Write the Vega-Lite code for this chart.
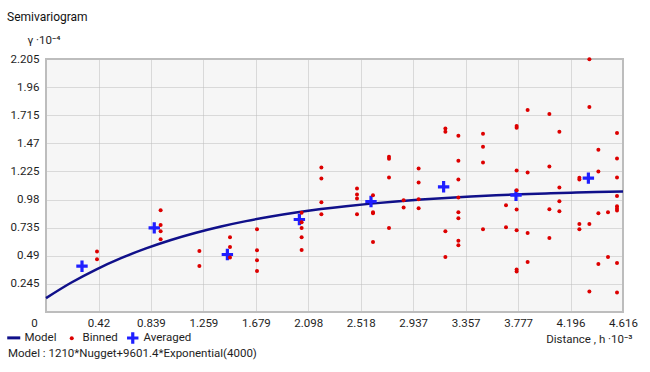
{
  "$schema": "https://vega.github.io/schema/vega-lite/v6.json",
  "width": 577,
  "height": 253,
  "autosize": {"type": "none"},
  "padding": {"left": 46, "top": 59, "right": 27, "bottom": 60},
  "background": "white",
  "title": {"text": "Semivariogram", "anchor": "start", "frame": "group", "dx": -39, "offset": 10, "font": "Roboto", "fontSize": 12, "fontWeight": "normal", "color": "#111111"},
  "config": {
    "view": {"fill": "#f6f6f6", "stroke": "#bdbdbd", "strokeWidth": 2},
    "font": "Roboto",
    "axis": {"labelFont": "Roboto", "labelFontSize": 11.5, "labelColor": "#1e1e1e", "ticks": false, "domain": false, "gridColor": "#bcbcbc", "gridDash": [1, 1], "gridWidth": 1, "titleFont": "Roboto", "titleFontSize": 11.5, "titleFontWeight": "normal", "titleColor": "#1e1e1e", "labelOverlap": false, "labelFlush": false, "labelBound": false},
    "legend": {"symbolOpacity": 1}
  },
  "datasets": {
    "curve": [
      {"series": "Model", "h": 0, "g": 0.121},
      {"series": "Model", "h": 0.2, "g": 0.2547},
      {"series": "Model", "h": 0.4, "g": 0.3699},
      {"series": "Model", "h": 0.6, "g": 0.469},
      {"series": "Model", "h": 0.8, "g": 0.5542},
      {"series": "Model", "h": 1.0, "g": 0.6276},
      {"series": "Model", "h": 1.2, "g": 0.6907},
      {"series": "Model", "h": 1.4, "g": 0.7452},
      {"series": "Model", "h": 1.6, "g": 0.792},
      {"series": "Model", "h": 1.8, "g": 0.8323},
      {"series": "Model", "h": 2.0, "g": 0.8669},
      {"series": "Model", "h": 2.2, "g": 0.8968},
      {"series": "Model", "h": 2.4, "g": 0.9224},
      {"series": "Model", "h": 2.6, "g": 0.9445},
      {"series": "Model", "h": 2.8, "g": 0.9635},
      {"series": "Model", "h": 3.0, "g": 0.9799},
      {"series": "Model", "h": 3.2, "g": 0.9941},
      {"series": "Model", "h": 3.4, "g": 1.0062},
      {"series": "Model", "h": 3.6, "g": 1.0166},
      {"series": "Model", "h": 3.8, "g": 1.0256},
      {"series": "Model", "h": 4.0, "g": 1.0333},
      {"series": "Model", "h": 4.2, "g": 1.04},
      {"series": "Model", "h": 4.4, "g": 1.0457},
      {"series": "Model", "h": 4.616, "g": 1.051}
    ],
    "avg": [
      {"series": "Averaged", "h": 0.288, "g": 0.399},
      {"series": "Averaged", "h": 0.866, "g": 0.733},
      {"series": "Averaged", "h": 1.451, "g": 0.501},
      {"series": "Averaged", "h": 2.027, "g": 0.806},
      {"series": "Averaged", "h": 2.6, "g": 0.963},
      {"series": "Averaged", "h": 3.181, "g": 1.091},
      {"series": "Averaged", "h": 3.76, "g": 1.018},
      {"series": "Averaged", "h": 4.339, "g": 1.167}
    ],
    "binned": [
      {"series": "Binned", "h": 0.408, "g": 0.527},
      {"series": "Binned", "h": 0.408, "g": 0.46},
      {"series": "Binned", "h": 0.917, "g": 0.887},
      {"series": "Binned", "h": 0.917, "g": 0.759},
      {"series": "Binned", "h": 0.917, "g": 0.704},
      {"series": "Binned", "h": 0.917, "g": 0.634},
      {"series": "Binned", "h": 1.227, "g": 0.532},
      {"series": "Binned", "h": 1.227, "g": 0.401},
      {"series": "Binned", "h": 1.472, "g": 0.652},
      {"series": "Binned", "h": 1.472, "g": 0.567},
      {"series": "Binned", "h": 1.472, "g": 0.475},
      {"series": "Binned", "h": 1.688, "g": 0.722},
      {"series": "Binned", "h": 1.688, "g": 0.538},
      {"series": "Binned", "h": 1.688, "g": 0.451},
      {"series": "Binned", "h": 1.688, "g": 0.358},
      {"series": "Binned", "h": 2.045, "g": 0.864},
      {"series": "Binned", "h": 2.045, "g": 0.783},
      {"series": "Binned", "h": 2.045, "g": 0.733},
      {"series": "Binned", "h": 2.045, "g": 0.652},
      {"series": "Binned", "h": 2.045, "g": 0.541},
      {"series": "Binned", "h": 2.203, "g": 1.26},
      {"series": "Binned", "h": 2.203, "g": 1.164},
      {"series": "Binned", "h": 2.203, "g": 0.957},
      {"series": "Binned", "h": 2.203, "g": 0.853},
      {"series": "Binned", "h": 2.488, "g": 1.077},
      {"series": "Binned", "h": 2.488, "g": 1.024},
      {"series": "Binned", "h": 2.488, "g": 0.989},
      {"series": "Binned", "h": 2.488, "g": 0.853},
      {"series": "Binned", "h": 2.616, "g": 1.018},
      {"series": "Binned", "h": 2.616, "g": 0.87},
      {"series": "Binned", "h": 2.616, "g": 0.86},
      {"series": "Binned", "h": 2.616, "g": 0.611},
      {"series": "Binned", "h": 2.744, "g": 1.353},
      {"series": "Binned", "h": 2.744, "g": 1.335},
      {"series": "Binned", "h": 2.744, "g": 1.173},
      {"series": "Binned", "h": 2.744, "g": 0.733},
      {"series": "Binned", "h": 2.861, "g": 0.975},
      {"series": "Binned", "h": 2.861, "g": 0.911},
      {"series": "Binned", "h": 2.981, "g": 1.251},
      {"series": "Binned", "h": 2.981, "g": 1.129},
      {"series": "Binned", "h": 2.981, "g": 0.983},
      {"series": "Binned", "h": 2.981, "g": 0.905},
      {"series": "Binned", "h": 3.195, "g": 1.6},
      {"series": "Binned", "h": 3.195, "g": 1.571},
      {"series": "Binned", "h": 3.195, "g": 0.704},
      {"series": "Binned", "h": 3.195, "g": 0.48},
      {"series": "Binned", "h": 3.299, "g": 1.536},
      {"series": "Binned", "h": 3.299, "g": 1.318},
      {"series": "Binned", "h": 3.299, "g": 1.155},
      {"series": "Binned", "h": 3.299, "g": 0.998},
      {"series": "Binned", "h": 3.299, "g": 0.87},
      {"series": "Binned", "h": 3.299, "g": 0.818},
      {"series": "Binned", "h": 3.299, "g": 0.62},
      {"series": "Binned", "h": 3.299, "g": 0.582},
      {"series": "Binned", "h": 3.496, "g": 1.553},
      {"series": "Binned", "h": 3.496, "g": 1.44},
      {"series": "Binned", "h": 3.496, "g": 1.304},
      {"series": "Binned", "h": 3.496, "g": 0.722},
      {"series": "Binned", "h": 3.68, "g": 0.931},
      {"series": "Binned", "h": 3.68, "g": 0.739},
      {"series": "Binned", "h": 3.765, "g": 1.62},
      {"series": "Binned", "h": 3.765, "g": 1.606},
      {"series": "Binned", "h": 3.765, "g": 1.234},
      {"series": "Binned", "h": 3.765, "g": 1.062},
      {"series": "Binned", "h": 3.765, "g": 0.894},
      {"series": "Binned", "h": 3.765, "g": 0.713},
      {"series": "Binned", "h": 3.765, "g": 0.37},
      {"series": "Binned", "h": 3.765, "g": 0.353},
      {"series": "Binned", "h": 3.853, "g": 1.76},
      {"series": "Binned", "h": 3.853, "g": 1.216},
      {"series": "Binned", "h": 3.853, "g": 0.689},
      {"series": "Binned", "h": 3.853, "g": 0.436},
      {"series": "Binned", "h": 4.027, "g": 1.725},
      {"series": "Binned", "h": 4.027, "g": 1.269},
      {"series": "Binned", "h": 4.027, "g": 0.896},
      {"series": "Binned", "h": 4.027, "g": 0.646},
      {"series": "Binned", "h": 4.107, "g": 1.571},
      {"series": "Binned", "h": 4.107, "g": 1.086},
      {"series": "Binned", "h": 4.107, "g": 0.966},
      {"series": "Binned", "h": 4.107, "g": 0.879},
      {"series": "Binned", "h": 4.267, "g": 1.169},
      {"series": "Binned", "h": 4.267, "g": 1.155},
      {"series": "Binned", "h": 4.267, "g": 0.768},
      {"series": "Binned", "h": 4.267, "g": 0.722},
      {"series": "Binned", "h": 4.347, "g": 2.202},
      {"series": "Binned", "h": 4.347, "g": 1.786},
      {"series": "Binned", "h": 4.347, "g": 0.768},
      {"series": "Binned", "h": 4.347, "g": 0.178},
      {"series": "Binned", "h": 4.419, "g": 1.414},
      {"series": "Binned", "h": 4.419, "g": 1.225},
      {"series": "Binned", "h": 4.419, "g": 0.861},
      {"series": "Binned", "h": 4.419, "g": 0.419},
      {"series": "Binned", "h": 4.496, "g": 0.87},
      {"series": "Binned", "h": 4.496, "g": 0.48},
      {"series": "Binned", "h": 4.568, "g": 1.559},
      {"series": "Binned", "h": 4.568, "g": 1.338},
      {"series": "Binned", "h": 4.568, "g": 1.173},
      {"series": "Binned", "h": 4.568, "g": 1.01},
      {"series": "Binned", "h": 4.568, "g": 0.922},
      {"series": "Binned", "h": 4.568, "g": 0.902},
      {"series": "Binned", "h": 4.568, "g": 0.885},
      {"series": "Binned", "h": 4.568, "g": 0.428},
      {"series": "Binned", "h": 4.568, "g": 0.169}
    ]
  },
  "encoding": {
    "x": {
      "field": "h", "type": "quantitative",
      "scale": {"domain": [0, 4.616], "nice": false, "zero": true},
      "axis": {
        "values": [0, 0.42, 0.839, 1.259, 1.679, 2.098, 2.518, 2.937, 3.357, 3.777, 4.196, 4.616],
        "format": ".4~r",
        "labelPadding": 5,
        "labelOffset": {"condition": {"test": "datum.value === 0", "value": -12}, "value": 0},
        "title": "Distance , h ·10⁻³",
        "titleX": 586, "titleY": 27, "titleAlign": "right", "titleBaseline": "middle", "titleAnchor": null
      }
    },
    "y": {
      "field": "g", "type": "quantitative",
      "scale": {"domain": [0, 2.205], "nice": false, "zero": true},
      "axis": {
        "values": [0.245, 0.49, 0.735, 0.98, 1.225, 1.47, 1.715, 1.96, 2.205],
        "format": ".4~r",
        "labelPadding": 7,
        "title": "γ ·10⁻⁴",
        "titleAngle": 0, "titleX": -19, "titleY": -19, "titleAlign": "left", "titleBaseline": "middle", "titleAnchor": null
      }
    },
    "color": {
      "field": "series", "type": "nominal",
      "scale": {"domain": ["Model", "Binned", "Averaged"], "range": ["#10108a", "#dd0000", "#1f1fff"]},
      "legend": {
        "orient": "none", "legendX": -38, "legendY": 273, "direction": "horizontal",
        "padding": 0, "columnPadding": 9, "labelOffset": 5,
        "labelFont": "Roboto", "labelFontSize": 11.5, "labelColor": "#1e1e1e",
        "title": "Model : 1210*Nugget+9601.4*Exponential(4000)",
        "titleOrient": "bottom", "titleAnchor": "start", "titlePadding": 4,
        "titleFont": "Roboto", "titleFontSize": 11.5, "titleFontWeight": "normal", "titleColor": "#1e1e1e", "titleLimit": 400,
        "encode": {"symbols": {"update": {"stroke": {"scale": "color", "field": "value"}, "strokeWidth": {"signal": "datum.value === 'Model' ? 3 : 0"}}}}
      }
    }
  },
  "layer": [
    {
      "data": {"name": "curve"},
      "mark": {"type": "line", "strokeWidth": 2.5, "interpolate": "monotone"},
      "encoding": {}
    },
    {
      "data": {"name": "avg"},
      "mark": {"type": "point", "filled": true, "opacity": 1, "strokeWidth": 0},
      "encoding": {
        "shape": {"field": "series", "type": "nominal", "scale": {"domain": ["Model", "Binned", "Averaged"], "range": ["stroke", "circle", "M-1,-0.28H-0.28V-1H0.28V-0.28H1V0.28H0.28V1H-0.28V0.28H-1Z"]}},
        "size": {"field": "series", "type": "nominal", "scale": {"type": "ordinal", "domain": ["Model", "Binned", "Averaged"], "range": [170, 16, 130]}}
      }
    },
    {
      "data": {"name": "binned"},
      "mark": {"type": "point", "filled": true, "opacity": 1, "strokeWidth": 0},
      "encoding": {
        "shape": {"field": "series", "type": "nominal", "scale": {"domain": ["Model", "Binned", "Averaged"], "range": ["stroke", "circle", "M-1,-0.28H-0.28V-1H0.28V-0.28H1V0.28H0.28V1H-0.28V0.28H-1Z"]}},
        "size": {"field": "series", "type": "nominal", "scale": {"type": "ordinal", "domain": ["Model", "Binned", "Averaged"], "range": [170, 16, 130]}}
      }
    }
  ]
}
